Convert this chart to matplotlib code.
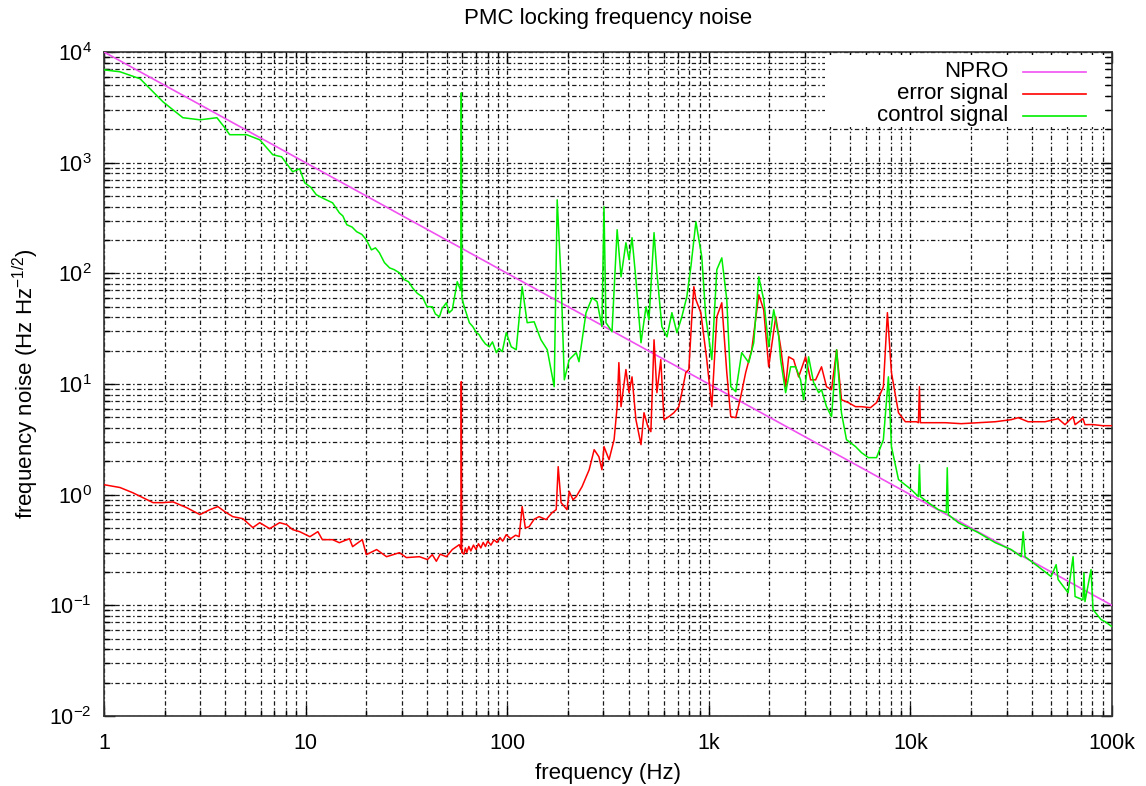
import matplotlib
matplotlib.use('Agg')
import numpy as np
import matplotlib.pyplot as plt
from matplotlib.ticker import FixedLocator, LogLocator, NullFormatter
from matplotlib.patches import Rectangle
from matplotlib.lines import Line2D

plt.rcParams['font.family'] = ['Liberation Sans', 'DejaVu Sans']
plt.rcParams['mathtext.fontset'] = 'custom'
plt.rcParams['mathtext.rm'] = 'Liberation Sans'
plt.rcParams['mathtext.it'] = 'Liberation Sans:italic'
plt.rcParams['mathtext.bf'] = 'Liberation Sans:bold'

# NPRO free-running noise (straight 1/f line)
npro_f = [1, 1e5]
npro_v = [1e4, 0.1]

# error signal (red)
error_f = [1.0, 1.2, 1.39, 1.75, 1.96, 2.2, 2.58, 2.99, 3.35, 3.67, 3.97, 4.35, 4.88, 5.47,
           5.92, 6.63, 7.43, 8.05, 8.62, 9.34, 10.5, 11.5, 12.1, 13.6, 14.7, 16.5, 17.1, 19.1,
           20.0, 22.5, 25.2, 29.2, 31.6, 36.7, 40.2, 42.5, 44.5, 46.5, 49.9, 53.4, 57.8, 59.0,
           59.2, 59.5, 61.0, 62.0, 63.0, 64.5, 66.0, 68.0, 70.0, 72.0, 74.0, 76.0, 78.0, 80.0,
           83.0, 86.0, 89.0, 92.0, 95.0, 98.9, 104, 110, 114.6, 118.6, 123, 128.5, 136, 144,
           156, 167, 175, 179, 185, 198, 203, 212, 220, 235, 255, 270, 285, 295, 302, 320,
           339, 351, 358, 367, 388, 402, 416, 435, 461, 477, 499, 516, 535, 553, 578, 599,
           634, 671, 710, 735, 769, 796, 824, 843, 863, 913, 977, 1035, 1096, 1160, 1228, 1285,
           1361, 1440, 1524, 1633, 1770, 1872, 1982, 2148, 2271, 2405, 2489, 2635, 2791, 3020,
           3199, 3388, 3624, 3837, 4064, 4305, 4550, 4932, 5343, 5715, 6339, 6792, 7345, 7691,
           8054, 8730, 9446, 10715, 10960, 11090, 11210, 12270, 14900, 17870, 21710, 26370,
           31620, 34270, 38370, 46560, 54070, 58480, 64120, 65620, 71820, 73450, 80000, 90000,
           100000]
error_v = [1.23, 1.16, 1.04, 0.847, 0.847, 0.86, 0.76, 0.66, 0.732, 0.78, 0.702, 0.633, 0.607,
           0.504, 0.558, 0.493, 0.558, 0.536, 0.483, 0.463, 0.417, 0.463, 0.392, 0.392, 0.368,
           0.40, 0.339, 0.392, 0.287, 0.319, 0.275, 0.299, 0.27, 0.275, 0.259, 0.287, 0.25,
           0.29, 0.275, 0.319, 0.353, 0.32, 10.5, 0.30, 0.29, 0.33, 0.30, 0.34, 0.31, 0.35, 0.32,
           0.36, 0.33, 0.37, 0.34, 0.38, 0.35, 0.39, 0.37, 0.41, 0.38, 0.435, 0.40, 0.43, 0.417,
           0.78, 0.50, 0.514, 0.60, 0.633, 0.595, 0.688, 0.732, 1.79, 0.847, 0.732, 1.07, 0.90,
           0.96, 1.18, 1.68, 2.55, 2.2, 1.68, 2.72, 2.07, 3.14, 6.24, 15.6, 6.24, 13.5, 8.35,
           11.6, 4.76, 2.83, 5.5, 4.1, 3.71, 25.1, 8.35, 16.6, 4.76, 5.07, 5.5, 6.24, 8.35,
           12.7, 13.5, 40.5, 75.7, 57.8, 44.1, 16.6, 6.24, 40.5, 54.2, 12.7, 5.07, 4.96, 7.68,
           12.7, 20.4, 64.0, 46.9, 14.3, 40.5, 21.7, 9.45, 17.6, 16.6, 11.6, 17.6, 10.9, 10.9,
           14.3, 9.45, 8.88, 20.4, 7.21, 6.78, 6.24, 6.24, 6.11, 6.78, 9.45, 44.1, 12.7, 5.5,
           4.56, 4.56, 4.47, 9.45, 4.47, 4.47, 4.47, 4.38, 4.47, 4.56, 4.76, 4.96, 4.56, 4.56,
           4.86, 4.29, 5.07, 4.29, 4.86, 4.29, 4.3, 4.2, 4.2]

# control signal (green)
control_f = [1.0, 1.2, 1.51, 1.96, 2.46, 2.99, 3.63, 3.97, 4.2, 5.1, 5.92, 6.87, 7.6, 8.62,
             9.34, 9.89, 10.6, 11.3, 12.4, 13.6, 14.7, 15.3, 16.0, 17.0, 17.9, 19.0, 20.0,
             21.2, 22.2, 23.2, 24.6, 26.1, 27.5, 29.2, 30.9, 32.4, 33.9, 35.8, 37.9, 40.0,
             42.5, 44.0, 46.1, 47.5, 49.9, 51.5, 53.4, 56.5, 58.8, 59.2, 59.6, 61.2, 64.9,
             67.5, 70.3, 72.5, 75.2, 78.0, 81.5, 84.5, 88.3, 91.0, 94.5, 98.9, 104.7, 110.8,
             118.6, 125.6, 136, 147, 158, 171, 177, 185, 192, 203, 220, 227, 246, 264, 279, 295,
             302, 309, 331, 351, 367, 388, 402, 416, 435, 461, 488, 505, 535, 553, 585, 620,
             656, 695, 735, 778, 815, 863, 923, 966, 1035, 1096, 1160, 1228, 1285, 1361, 1456,
             1578, 1671, 1770, 1872, 1982, 2099, 2223, 2271, 2405, 2547, 2697, 2853, 2952,
             3126, 3311, 3508, 3624, 3837, 4064, 4305, 4550, 4819, 5343, 5715, 6194, 6792,
             7345, 7780, 8054, 8730, 10110, 10960, 11090, 11210, 12270, 13770, 15070, 15240,
             15420, 17290, 19360, 21710, 26370, 31620, 35480, 36260, 37070, 43030, 49890,
             52840, 54070, 60560, 64120, 65620, 71820, 72620, 73450, 78720, 80540, 88290,
             92290, 100000]
control_v = [6900, 6630, 5730, 3550, 2550, 2440, 2550, 2070, 1790, 1790, 1610, 1180, 1130, 828,
             881, 658, 600, 513, 470, 434, 352, 330, 275, 262, 238, 225, 201, 163, 170, 154,
             125, 112, 108, 101, 87.5, 84, 74, 66, 61.5, 50.0, 49.9, 43.0, 40.5, 48.0, 54.2,
             44.0, 46.9, 84, 70.0, 4280, 60.0, 49.9, 35.8, 33.0, 29.1, 28.0, 25.1, 23.0, 21.7,
             24.0, 19.2, 21.0, 19.6, 29.1, 21.7, 20.4, 75.7, 35.8, 36.5, 25.1, 20.4, 9.45, 462,
             87.5, 10.9, 16.6, 19.2, 15.9, 44.1, 60.2, 55.4, 33.0, 400, 35.8, 29.7, 248, 93,
             189, 133, 210, 87.5, 23.6, 49.9, 38.1, 233, 101, 33.0, 26.7, 44.1, 29.1, 40.5,
             61.5, 115, 292, 141, 40.5, 16.6, 108, 138, 57.8, 9.45, 8.52, 19.2, 15.6, 23.6, 93,
             57.8, 21.7, 46.9, 26.7, 16.6, 8.35, 14.3, 14.3, 10.9, 7.21, 17.6, 10.3, 8.35, 8.88,
             6.24, 5.07, 20.4, 5.5, 3.14, 2.72, 2.40, 2.16, 2.16, 3.14, 11.6, 2.72, 1.37, 1.11,
             0.96, 1.87, 0.96, 0.847, 0.732, 0.688, 1.75, 0.66, 0.558, 0.504, 0.454, 0.368,
             0.319, 0.275, 0.463, 0.275, 0.224, 0.182, 0.233, 0.171, 0.130, 0.275, 0.12, 0.112,
             0.197, 0.108, 0.21, 0.0915, 0.0743, 0.0713, 0.0642]

xtick_vals = [1, 10, 100, 1e3, 1e4, 1e5]
xtick_labels = ['1', '10', '100', '1k', '10k', '100k']
ytick_vals = [1e-2, 1e-1, 1, 10, 100, 1e3, 1e4]
ytick_labels = ['$10^{-2}$', '$10^{-1}$', '$10^{0}$', '$10^{1}$', '$10^{2}$', '$10^{3}$', '$10^{4}$']

fig = plt.figure(figsize=(11.46, 7.86), dpi=100)
ax = fig.add_axes([0.0908, 0.0891, 0.8795, 0.8447])

ax.plot(npro_f, npro_v, color='#f050f0', lw=1.2, zorder=3)
ax.plot(error_f, error_v, color='#ff0000', lw=1.1, zorder=4)
ax.plot(control_f, control_v, color='#00ee00', lw=1.1, zorder=5)

ax.set_xscale('log')
ax.set_yscale('log')
ax.set_xlim(1, 1e5)
ax.set_ylim(1e-2, 1e4)

ax.xaxis.set_major_locator(FixedLocator(xtick_vals))
ax.set_xticklabels(xtick_labels)
ax.yaxis.set_major_locator(FixedLocator(ytick_vals))
ax.set_yticklabels(ytick_labels)
for a in (ax.xaxis, ax.yaxis):
    a.set_minor_locator(LogLocator(base=10, subs=np.arange(2, 10), numticks=20))
    a.set_minor_formatter(NullFormatter())

ax.tick_params(which='both', direction='in', top=True, right=True, labelsize=15.5)
ax.tick_params(axis='x', pad=12)
ax.tick_params(axis='y', pad=9)
ax.tick_params(which='major', length=8, width=1)
ax.tick_params(which='minor', length=4.5, width=1)

ax.grid(True, which='both', color='#1a1a1a', lw=0.9, linestyle=(0, (3.5, 2, 1.2, 2)), zorder=1)
ax.set_axisbelow(True)
for s in ax.spines.values():
    s.set_linewidth(1.2)
    s.set_color('#333333')

ax.set_title('PMC locking frequency noise', fontsize=16, pad=20)
ax.set_xlabel('frequency (Hz)', fontsize=16, labelpad=7)
ax.set_ylabel('frequency noise (Hz Hz$^{-1/2}$)', fontsize=16, labelpad=6)

# gnuplot style key: white box, text right-aligned before the sample line
ax.add_patch(Rectangle((0.715, 0.887), 0.278, 0.108, transform=ax.transAxes,
                       facecolor='white', edgecolor='none', zorder=2))
key_labels = ['NPRO', 'error signal', 'control signal']
key_colors = ['#f050f0', '#ff0000', '#00ee00']
for i, (lab, col) in enumerate(zip(key_labels, key_colors)):
    yk = 0.970 - i * 0.033
    ax.text(0.897, yk, lab, transform=ax.transAxes, ha='right', va='center',
            fontsize=16, zorder=6)
    ax.add_line(Line2D([0.912, 0.974], [yk, yk], transform=ax.transAxes,
                       color=col, lw=1.2, zorder=6))

fig.savefig('out.png', dpi=100)
